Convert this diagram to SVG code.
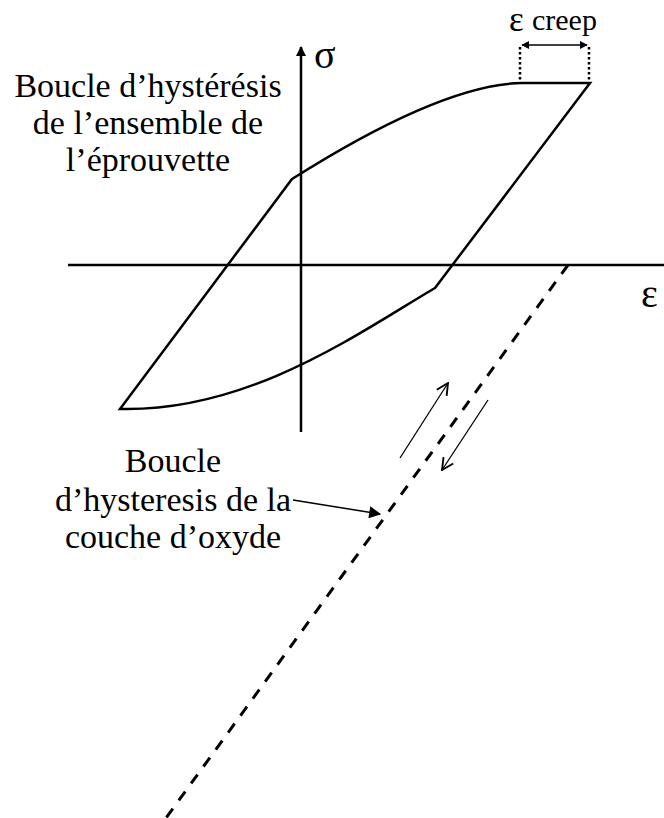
<svg xmlns="http://www.w3.org/2000/svg" width="664" height="818" viewBox="0 0 664 818">
<style>
.lbl{font-size:34px;text-anchor:middle;fill:#000}
.ln{fill:none;stroke:#000;stroke-width:2.5;stroke-linejoin:miter}
.thin{fill:none;stroke:#000;stroke-width:1.3}
</style>
<defs>
<marker id="tri" viewBox="0 0 10 10" refX="9" refY="5" markerWidth="10" markerHeight="10" markerUnits="userSpaceOnUse" orient="auto"><path d="M0,0 L10,5 L0,10 Z" fill="#000"/></marker>
<marker id="triS" viewBox="0 0 10 10" refX="9" refY="5" markerWidth="8" markerHeight="8" markerUnits="userSpaceOnUse" orient="auto-start-reverse"><path d="M0,0 L10,5 L0,10 Z" fill="#000"/></marker>
<marker id="chev" viewBox="0 0 12 12" refX="11" refY="6" markerWidth="14" markerHeight="14" markerUnits="userSpaceOnUse" orient="auto"><path d="M1,1 L11,6 L1,11" fill="none" stroke="#000" stroke-width="1.6"/></marker>
<marker id="tri2" viewBox="0 0 10 10" refX="9" refY="5" markerWidth="14" markerHeight="12" markerUnits="userSpaceOnUse" orient="auto"><path d="M0,0 L10,5 L0,10 Z" fill="#000"/></marker>
</defs>
<g id="axes">
<line class="ln" x1="68" y1="265" x2="664" y2="265"/>
<line class="ln" x1="301" y1="432" x2="301" y2="47" marker-end="url(#tri)"/>
<text x="314" y="68" font-size="40" style="font-family:'Liberation Serif'">σ</text>
<text x="641" y="307" font-size="40" style="font-family:'Liberation Serif'">ε</text>
</g>
<g id="loop-specimen">
<path class="ln" d="M120,409 L292,179 C360,136 455,84 522,83 L590,83 L435,288 C360,332 250,412 120,409 Z"/>
</g>
<g id="creep">
<line x1="520" y1="47" x2="520" y2="82" stroke="#000" stroke-width="2.5" stroke-dasharray="2.5 2.5"/>
<line x1="589" y1="47" x2="589" y2="82" stroke="#000" stroke-width="2.5" stroke-dasharray="2.5 2.5"/>
<line x1="522" y1="45" x2="587" y2="45" stroke="#000" stroke-width="1.5" marker-start="url(#triS)" marker-end="url(#triS)"/>
<text x="509" y="31" font-size="35" style="font-family:'Liberation Serif'">ε</text>
<text x="532" y="30" font-size="30" style="font-family:'Liberation Serif'">creep</text>
</g>
<g id="loop-oxide">
<line x1="568" y1="265" x2="166" y2="818" stroke="#000" stroke-width="3" stroke-dasharray="11 10"/>
</g>
<g id="connectors">
<line class="thin" x1="400" y1="458" x2="448" y2="383" marker-end="url(#chev)"/>
<line class="thin" x1="488" y1="400" x2="442" y2="470" marker-end="url(#chev)"/>
<line x1="293" y1="500" x2="380" y2="514" stroke="#000" stroke-width="1.5" marker-end="url(#tri2)"/>
</g>
<g id="label-specimen">
<text class="lbl" x="148" y="97" style="font-family:'Liberation Serif'">Boucle d’hystérésis</text>
<text class="lbl" x="148" y="134" style="font-family:'Liberation Serif'">de l’ensemble de</text>
<text class="lbl" x="148" y="171" style="font-family:'Liberation Serif'">l’éprouvette</text>
</g>
<g id="label-oxide">
<text class="lbl" x="173" y="472" style="font-family:'Liberation Serif'">Boucle</text>
<text class="lbl" x="173" y="511" style="font-family:'Liberation Serif'">d’hysteresis de la</text>
<text class="lbl" x="173" y="548" style="font-family:'Liberation Serif'">couche d’oxyde</text>
</g>
</svg>
